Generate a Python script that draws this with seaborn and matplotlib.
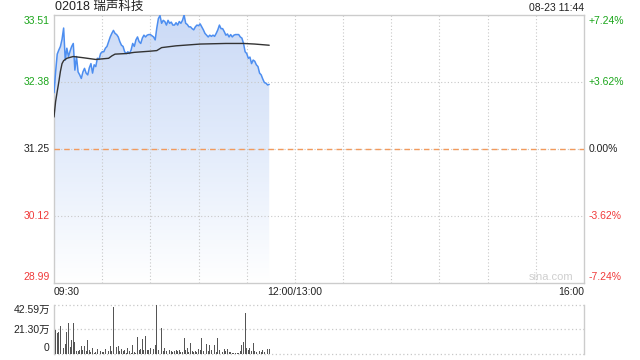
import numpy as np
import matplotlib
matplotlib.use("Agg")
import matplotlib.pyplot as plt
import seaborn as sns
from matplotlib.patches import Polygon
from matplotlib.colors import LinearSegmentedColormap
from matplotlib.transforms import blended_transform_factory

# ---------------- data ----------------
title = "02018 瑞声科技"
stamp = "08-23 11:44"

minutes = list(range(135))
price = [
    32.20, 32.55, 32.85, 32.92, 32.98, 33.10, 33.29, 32.75, 32.95, 32.81,
    32.90, 32.98, 33.03, 32.58, 32.81, 32.55, 32.50, 32.44, 32.55, 32.61,
    32.53, 32.50, 32.62, 32.69, 32.53, 32.67, 32.64, 32.78, 32.76, 32.86,
    32.89, 32.89, 32.95, 32.98, 33.06, 33.14, 33.20, 33.25, 33.20, 33.18,
    33.14, 33.06, 33.00, 32.98, 32.89, 32.86, 32.89, 32.86, 32.92, 33.03,
    32.98, 33.09, 33.14, 33.06, 33.03, 33.12, 33.17, 33.14, 33.17, 33.18,
    33.18, 33.16, 33.14, 33.09, 33.29, 33.45, 33.50, 33.37, 33.42, 33.40,
    33.34, 33.42, 33.37, 33.39, 33.34, 33.34, 33.38, 33.34, 33.40, 33.37,
    33.42, 33.51, 33.37, 33.35, 33.31, 33.31, 33.28, 33.26, 33.31, 33.34,
    33.33, 33.36, 33.31, 33.26, 33.20, 33.17, 33.14, 33.17, 33.15, 33.17,
    33.15, 33.20, 33.26, 33.34, 33.28, 33.28, 33.23, 33.17, 33.19, 33.14,
    33.18, 33.14, 33.17, 33.18, 33.18, 33.18, 33.14, 33.12, 33.03, 32.89,
    32.86, 32.78, 32.80, 32.69, 32.75, 32.73, 32.67, 32.64, 32.53, 32.50,
    32.43, 32.37, 32.36, 32.33, 32.34,
]

avg_minutes = [0, 1, 2, 3, 4, 5, 6, 8, 12, 18, 26, 34, 36, 38, 45, 50,
               60, 64, 67, 76, 91, 107, 118, 125, 134]
avg_price = [31.79, 32.05, 32.22, 32.38, 32.56, 32.69, 32.74, 32.78, 32.81,
             32.79, 32.76, 32.78, 32.82, 32.85, 32.86, 32.88, 32.90, 32.91,
             32.96, 32.99, 33.02, 33.03, 33.03, 33.02, 33.00]

volume_wan = [
    21.4, 20.9, 18.5, 19.4, 24.3, 35.3, 4.9, 8.7, 19.4, 27.2,
    6.4, 12.2, 27.2, 10.7, 2.9, 2.9, 3.5, 7.0, 3.5, 7.0,
    2.9, 12.2, 3.5, 2.0, 4.9, 1.2, 2.0, 4.1, 13.6, 2.9,
    2.0, 2.0, 4.1, 16.5, 2.9, 7.0, 3.0, 41.1, 15.6, 6.4,
    7.0, 2.9, 4.1, 2.9, 3.5, 1.2, 4.9, 2.9, 1.2, 7.8,
    2.0, 1.2, 14.5, 3.5, 4.1, 12.7, 3.5, 15.6, 3.5, 3.5,
    4.9, 2.9, 4.1, 7.8, 42.59, 3.5, 3.5, 22.3, 2.9, 4.9,
    2.9, 2.0, 3.5, 2.9, 2.0, 2.9, 3.5, 2.9, 3.5, 2.0,
    2.0, 13.6, 3.5, 4.9, 2.0, 9.3, 2.9, 2.0, 2.9, 2.0,
    4.1, 3.5, 13.6, 2.9, 4.1, 8.7, 2.9, 7.8, 3.5, 2.9,
    7.8, 2.0, 13.6, 3.5, 2.9, 2.0, 4.1, 2.9, 4.1, 2.0,
    2.0, 1.2, 0.6, 0.6, 0.6, 1.2, 2.9, 7.8, 10.7, 35.9,
    4.9, 3.5, 4.9, 2.9, 9.9, 2.9, 2.0, 13.6, 2.9, 2.0,
    3.5, 2.0, 2.9, 4.1, 4.1,
]

prev_close = 31.25
price_ticks = [28.99, 30.12, 31.25, 32.38, 33.51]
pct_labels = ["-7.24%", "-3.62%", "0.00%", "+3.62%", "+7.24%"]
vol_ticks = [0, 21.30, 42.59]
vol_labels = ["0", "21.30万", "42.59万"]
time_ticks = [0, 150, 330]
time_labels = ["09:30", "12:00/13:00", "16:00"]
grid_minutes = list(range(30, 330, 30))

# ---------------- style ----------------
sns.set_theme(style="white")
plt.rcParams["font.family"] = ["Liberation Sans", "Noto Sans CJK SC", "DejaVu Sans"]

GREEN = "#1aa51a"
RED = "#f03a3a"
BLACK = "#222222"
GRID = "#c8c8c8"
DOT = (0, (1, 2))

fig = plt.figure(figsize=(6.4, 3.6), dpi=100)
fig.patch.set_facecolor("white")
W, H = 640, 360
ax = fig.add_axes([54 / W, 1 - 283 / H, 530 / W, 268 / H])
axv = fig.add_axes([54 / W, 1 - 354 / H, 530 / W, 49 / H])

ymin, ymax = price_ticks[0], price_ticks[-1]

# gradient fill under price
px = [minutes[0]] + minutes + [minutes[-1]]
py = [ymin] + price + [ymin]
poly = Polygon(np.column_stack([px, py]), closed=True, facecolor="none", edgecolor="none")
ax.add_patch(poly)
grad = np.linspace(0, 1, 256).reshape(-1, 1)
cmap = LinearSegmentedColormap.from_list("g", ["#ffffff", "#e3ecfb", "#cbdaf6"])
im = ax.imshow(grad, extent=[0, minutes[-1], ymin, ymax], origin="lower",
               aspect="auto", cmap=cmap, zorder=1)
im.set_clip_path(poly)

# grid
for m in grid_minutes:
    ax.axvline(m, color=GRID, lw=0.8, ls=DOT, zorder=2)
for v in price_ticks[1:-1]:
    ax.axhline(v, color=GRID, lw=0.8, ls=DOT, zorder=2)
ax.axhline(prev_close, color="#f29a5c", lw=1.0, ls=(0, (4, 3)), zorder=3)

# lines
sns.lineplot(x=minutes, y=price, ax=ax, color="#4d8ef0", lw=1.1, zorder=5)
sns.lineplot(x=avg_minutes, y=avg_price, ax=ax, color="#333333", lw=1.0, zorder=6)

ax.set_xlim(0, 330)
ax.set_ylim(ymin, ymax)
ax.set_xticks([])
ax.set_yticks([])
ax.set_xlabel("")
ax.set_ylabel("")
for s in ax.spines.values():
    s.set_color("#cccccc")
    s.set_linewidth(1.0)

FS = 7.5
colors = [RED, RED, BLACK, GREEN, GREEN]
tl = blended_transform_factory(ax.transAxes, ax.transData)
for i, (v, pl, c) in enumerate(zip(price_ticks, pct_labels, colors)):
    va = "bottom" if i == 0 else ("top" if i == len(price_ticks) - 1 else "center")
    dy = 1 if i == 0 else (-1 if i == len(price_ticks) - 1 else 0)
    ax.annotate(f"{v:.2f}", (0, v), xycoords=tl, xytext=(-3, dy), textcoords="offset points",
                ha="right", va=va, fontsize=FS, color=c)
    ax.annotate(pl, (1, v), xycoords=tl, xytext=(3.5, dy), textcoords="offset points",
                ha="left", va=va, fontsize=FS, color=c)

# time labels
has = ["left", "center", "right"]
tb = blended_transform_factory(ax.transData, ax.transAxes)
for t, lab, ha in zip(time_ticks, time_labels, has):
    ax.annotate(lab, (t, 0), xycoords=tb, xytext=(0, -3), textcoords="offset points",
                ha=ha, va="top", fontsize=FS, color=BLACK)

# title and stamp
ax.annotate(title, (0, 1), xycoords="axes fraction", xytext=(1, 1.5), textcoords="offset points",
            ha="left", va="bottom", fontsize=9, color=BLACK)
ax.annotate(stamp, (1, 1), xycoords="axes fraction", xytext=(0, 1.5), textcoords="offset points",
            ha="right", va="bottom", fontsize=FS, color=BLACK)
ax.annotate("sina.com", (1, 0), xycoords="axes fraction", xytext=(-8, 1), textcoords="offset points",
            ha="right", va="bottom", fontsize=8, color="#cfcfcf")

# volume
axv.bar(minutes, volume_wan, width=0.55, color="#555555", linewidth=0, zorder=3)
axv.set_xlim(0, 330)
axv.set_ylim(vol_ticks[0], vol_ticks[-1])
axv.set_xticks([])
axv.set_yticks([])
axv.axhline(vol_ticks[1], color=GRID, lw=0.9, ls=DOT, zorder=1)
for k in ["top", "bottom"]:
    axv.spines[k].set_visible(False)
axv.axhline(vol_ticks[-1], color=GRID, lw=0.9, ls=DOT, zorder=1, clip_on=False)
axv.axhline(vol_ticks[0], color=GRID, lw=0.9, ls=DOT, zorder=1, clip_on=False)
for k in ["left", "right"]:
    axv.spines[k].set_color("#cccccc")
    axv.spines[k].set_linewidth(1.0)

tv = blended_transform_factory(axv.transAxes, axv.transData)
for i, (v, lab) in enumerate(zip(vol_ticks, vol_labels)):
    va = "bottom" if i == 0 else ("top" if i == len(vol_ticks) - 1 else "center")
    dy = 0.5 if i == 0 else 0
    axv.annotate(lab, (0, v), xycoords=tv, xytext=(-3, dy), textcoords="offset points",
                 ha="right", va=va, fontsize=FS, color=BLACK)

fig.savefig("out.png", dpi=100)
